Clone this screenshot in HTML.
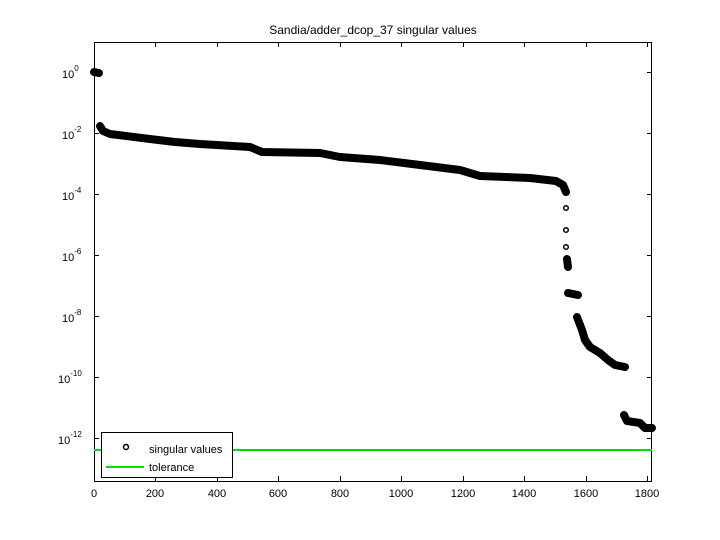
<!DOCTYPE html>
<html><head><meta charset="utf-8"><style>
html,body{margin:0;padding:0;background:#fff;width:720px;height:540px;overflow:hidden}
svg text{font-family:"Liberation Sans",sans-serif;fill:#000}
</style></head><body>
<svg width="720" height="540" viewBox="0 0 720 540" xmlns="http://www.w3.org/2000/svg">
<rect x="0" y="0" width="720" height="540" fill="#fff"/>
<text x="373" y="34" font-size="12" text-anchor="middle">Sandia/adder_dcop_37 singular values</text>
<rect x="94.5" y="42.5" width="557" height="439" fill="none" stroke="#000" stroke-width="1"/>
<g stroke="#000" stroke-width="1">
<path d="M155.5,481v-5M217.5,481v-5M278.5,481v-5M340.5,481v-5M401.5,481v-5M463.5,481v-5M524.5,481v-5M586.5,481v-5M647.5,481v-5"/>
<path d="M155.5,42v5M217.5,42v5M278.5,42v5M340.5,42v5M401.5,42v5M463.5,42v5M524.5,42v5M586.5,42v5M647.5,42v5"/>
<path d="M94,72.5h5M94,133.5h5M94,194.5h5M94,255.5h5M94,316.5h5M94,377.5h5M94,438.5h5"/>
<path d="M652,72.5h-5M652,133.5h-5M652,194.5h-5M652,255.5h-5M652,316.5h-5M652,377.5h-5M652,438.5h-5"/>
</g>
<g font-size="11" text-anchor="middle">
<text x="94" y="497">0</text><text x="155" y="497">200</text><text x="217" y="497">400</text><text x="278" y="497">600</text><text x="340" y="497">800</text><text x="401" y="497">1000</text><text x="463" y="497">1200</text><text x="524" y="497">1400</text><text x="586" y="497">1600</text><text x="647" y="497">1800</text>
</g>
<g font-size="11">
<text x="62" y="78">10<tspan dy="-7" font-size="8">0</tspan></text>
<text x="62" y="139">10<tspan dy="-7" font-size="8">-2</tspan></text>
<text x="62" y="200">10<tspan dy="-7" font-size="8">-4</tspan></text>
<text x="62" y="261">10<tspan dy="-7" font-size="8">-6</tspan></text>
<text x="62" y="322">10<tspan dy="-7" font-size="8">-8</tspan></text>
<text x="58" y="383">10<tspan dy="-7" font-size="8">-10</tspan></text>
<text x="58" y="444">10<tspan dy="-7" font-size="8">-12</tspan></text>
</g>
<line x1="94" y1="450" x2="652" y2="450" stroke="#00e000" stroke-width="2"/>
<g fill="none" stroke="#000" stroke-linecap="round" stroke-linejoin="round" stroke-width="8">
<path d="M94,72 L99,73"/>
<path d="M100,126 L103,131 L110,134 L150,139 L175,142 L200,144 L250,147 L262,152 L320,153 L340,157 L380,160 L420,165 L460,170 L480,176 L530,178 L556,181 L563,185 L566,192"/>
<path d="M567,259 L568,267"/>
<path d="M568,293 L578,295"/>
<path d="M577,317 L582,330 L585,340 L590,347 L600,353 L608,360 L615,365 L625,367"/>
<path d="M624,415 L627,421 L640,423 L645,428 L652,428"/>
</g>
<g fill="none" stroke="#000" stroke-width="1.5">
<circle cx="566" cy="208" r="2.3"/><circle cx="566" cy="230" r="2.3"/><circle cx="566" cy="247" r="2.3"/>
</g>
<rect x="101.5" y="432.5" width="131" height="45" fill="#fff" stroke="#000"/>
<circle cx="126" cy="447" r="2.5" fill="none" stroke="#000" stroke-width="1.5"/>
<text x="149" y="453" font-size="11">singular values</text>
<line x1="106" y1="467" x2="144" y2="467" stroke="#00e000" stroke-width="2"/>
<text x="149" y="471" font-size="11">tolerance</text>
</svg>
</body></html>
